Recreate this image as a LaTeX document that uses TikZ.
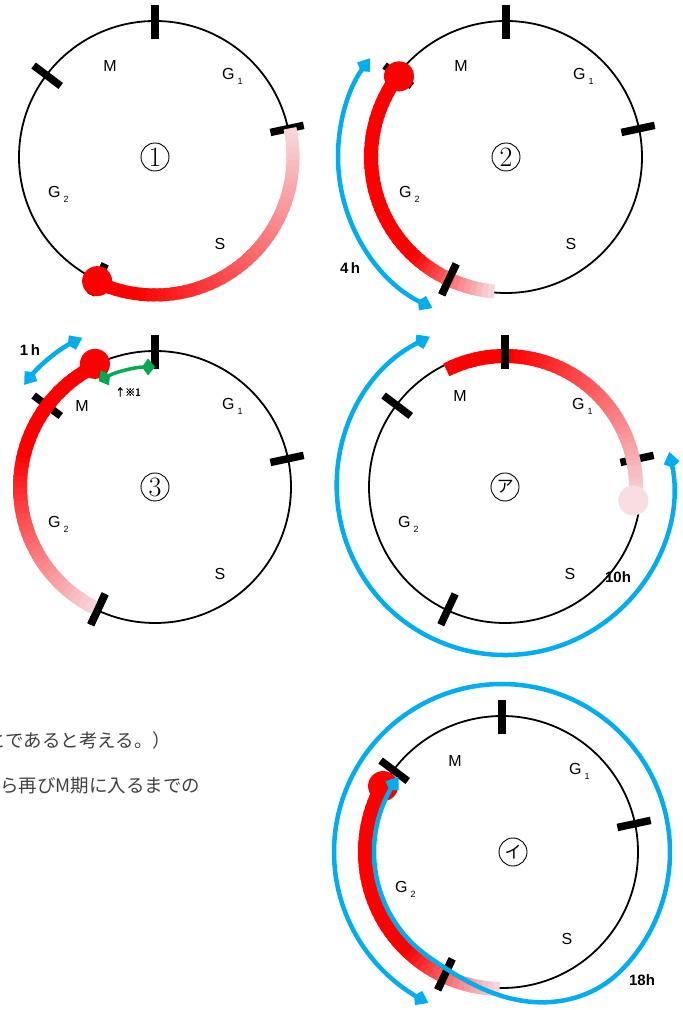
\documentclass[tikz,border=0pt]{standalone}
\usepackage{fontspec}
\setsansfont{Liberation Sans}
\newfontfamily\cjk{Noto Sans CJK JP}
\newfontfamily\cjkbold[FakeBold=2]{Noto Sans CJK JP}
\usepackage{tikz}
\usetikzlibrary{arrows.meta}

\definecolor{cellred}{RGB}{255,0,0}
\definecolor{fadered}{RGB}{246,214,219}
\definecolor{timeblue}{RGB}{0,174,239}
\definecolor{stepgreen}{RGB}{0,170,80}

\tikzstyle{cycle} = [line width=1.8pt]
\tikzstyle{tick} = [line width=7.5pt]
\tikzstyle{phase} = [font=\sffamily\fontsize{16}{16}\selectfont, inner sep=0pt]
\tikzstyle{hours} = [font=\sffamily\bfseries\fontsize{15}{15}\selectfont, inner sep=0pt]
\tikzstyle{number} = [draw, circle, line width=0.9pt, minimum size=28pt, inner sep=0pt]
\tikzset{
  span/.style={color=timeblue, line width=4.5pt,
    arrows={Kite[length=16pt,width=16pt,inset=5pt]-Kite[length=16pt,width=16pt,inset=5pt]}},
  greenspan/.style={color=stepgreen, line width=3.5pt,
    arrows={Kite[length=13pt,width=17pt,inset=6pt]-Kite[length=13pt,width=17pt,inset=6pt]}}
}

% ring, ticks and phase names (local coordinates); #1 = place of M
\newcommand{\ringbase}[1]{%
  \draw[cycle] (0,0) circle[radius=136];
  \foreach \a in {90,12,245,143}
    \draw[tick] (\a:118) -- (\a:152);
  \node[phase] at (#1) {M};
  \node[phase, anchor=base west] at (67,77) {G\hspace{3pt}\raisebox{-5pt}{\fontsize{9}{9}\selectfont 1}};
  \node[phase, anchor=base west] at (-107,-41) {G\hspace{3pt}\raisebox{-5pt}{\fontsize{9}{9}\selectfont 2}};
  \node[phase] at (65,-87) {S};
}
\newcommand{\ticksover}{%
  \foreach \a in {90,245}
    \draw[tick] (\a:118) -- (\a:152);
}
% red band fading out: radius, from, to, solid part, width
\newcommand{\gradarc}[5]{%
  \foreach \i in {0,...,47}{
    \pgfmathsetmacro\segfrom{#2+(#3-#2)*\i/48}
    \pgfmathsetmacro\segto{\i<47 ? #2+(#3-#2)*(\i+1.5)/48 : #3}
    \pgfmathtruncatemacro\segpct{(\i+1)/48<#4 ? 100 : 100*(1-((\i+1)/48-#4)/(1-#4))}
    \draw[line width=#5, cellred!\segpct!fadered] (\segfrom:#1) arc[start angle=\segfrom, end angle=\segto, radius=#1];
  }%
}

\begin{document}
\begin{tikzpicture}[x=1pt,y=1pt]
\useasboundingbox (0,0) rectangle (683,1010);

% text cut off at the left edge
\begin{scope}
\clip (0,0) rectangle (683,1010);
\node[anchor=west, inner sep=0pt, text=black!75, font=\cjk\fontsize{18.5}{18.5}\selectfont] (note1) at (-31,270) {ことであると考える。）};
\node[anchor=west, inner sep=0pt, text=black!75, font=\cjk\fontsize{18.5}{18.5}\selectfont] (note2) at (-18.5,224) {から再びM期に入るまでの};
\end{scope}

% (1)
\begin{scope}[shift={(155,853)}]
\ringbase{-45,91}
\gradarc{138}{245}{372}{0.15}{13pt}
\ticksover
\fill[cellred] (245:137) circle[radius=15];
\node[number] (one) at (0,0) {\fontsize{28}{28}\selectfont 1};
\end{scope}

% (2)
\begin{scope}[shift={(506,853)}]
\ringbase{-45,91}
\gradarc{135}{143}{265}{0.7}{14pt}
\ticksover
\fill[cellred] (143:134) circle[radius=15];
\draw[span] (244:168) arc[start angle=244, end angle=144, radius=168];
\node[hours] (four) at (-156,-111) {4\,h};
\node[number] (two) at (0,0) {\fontsize{28}{28}\selectfont 2};
\end{scope}

% (3)
\begin{scope}[shift={(155,523)}]
\ringbase{-73,81}
\gradarc{135}{116}{245}{0.4}{14pt}
\ticksover
\fill[cellred] (116:137) circle[radius=15];
\draw[span] (142:166) arc[start angle=142, end angle=116, radius=166];
\draw[greenspan] (118:120) arc[start angle=118, end angle=90, radius=120];
\node[hours] (onehour) at (-125,137) {1\,h};
\node[inner sep=0pt, font=\cjkbold\fontsize{10}{10}\selectfont] (mark) at (-27,95) {↑※1};
\node[number] (three) at (0,0) {\fontsize{28}{28}\selectfont 3};
\end{scope}

% (a)
\begin{scope}[shift={(505,523)}]
\ringbase{-45,91}
\gradarc{131}{116.6}{-6}{0.25}{14pt}
\draw[tick] (90:118) -- (90:152);
\fill[fadered!80!white] (-6:129) circle[radius=15];
\draw[span] (116.6:168) arc[start angle=116.6, end angle=372, radius=168];
\node[hours] (ten) at (113,-90) {10h};
\node[number, font=\cjk\fontsize{17}{17}\selectfont] (kataA) at (0,0) {ア};
\end{scope}

% (b)
\begin{scope}[shift={(502,158)}]
\ringbase{-47,91}
\gradarc{137}{151}{269}{0.65}{14pt}
\ticksover
\fill[cellred] (151:136) circle[radius=15];
\draw[span] plot[domain=144:604, samples=240] (\x:{128+20*(1-cos(180*min(1,max(0,(\x-235)/80))))});
\node[hours] (eighteen) at (140,-128) {18h};
\node[number, font=\cjk\fontsize{17}{17}\selectfont] (kataI) at (11,0) {イ};
\end{scope}
\end{tikzpicture}
\end{document}
